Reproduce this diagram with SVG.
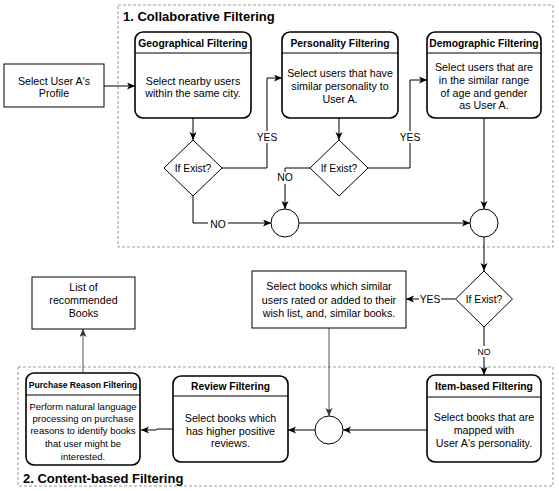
<svg xmlns="http://www.w3.org/2000/svg" width="559" height="491" viewBox="0 0 559 491">
<defs>
<marker id="arr" markerUnits="userSpaceOnUse" markerWidth="10" markerHeight="8" refX="8" refY="3.5" orient="auto">
<path d="M0,0 L8,3.5 L0,7 L2,3.5 z" fill="#000"/>
</marker>
<marker id="arrg" markerUnits="userSpaceOnUse" markerWidth="10" markerHeight="8" refX="8" refY="3.5" orient="auto">
<path d="M0,0 L8,3.5 L0,7 L2,3.5 z" fill="#333"/>
</marker>
</defs>
<style>
text{font-family:"Liberation Sans",Arial,sans-serif;fill:#000}
.b{font-size:10.7px;text-anchor:middle}
.h{font-size:10.3px;font-weight:bold;text-anchor:middle}
.t{font-size:13px;font-weight:bold}
.lbl{font-size:10.3px;text-anchor:middle}
.grp{fill:none;stroke:#999;stroke-width:1;stroke-dasharray:3 2}
.box{fill:#fff;stroke:#000;stroke-width:1}
.lane{fill:#fff;stroke:#000;stroke-width:1.6}
.c{fill:none;stroke:#000;stroke-width:1;marker-end:url(#arr)}
.cg{fill:none;stroke:#555;stroke-width:1;marker-end:url(#arrg)}
.lb{fill:#fff}
</style>
<rect width="559" height="491" fill="#fff"/>
<g id="collab-group">
<rect class="grp" x="118" y="5" width="435" height="242"/>
<text class="t" x="123" y="21">1. Collaborative Filtering</text>
</g>
<g id="content-group">
<rect class="grp" x="18" y="367" width="535" height="119"/>
<text class="t" x="23" y="483">2. Content-based Filtering</text>
</g>
<g id="connectors">
<path class="c" d="M104,86 L135,86"/>
<path class="c" d="M193,118 L193,140"/>
<path class="c" d="M222,168 L267,168 L267,78 L282,78"/>
<path class="c" d="M193,196 L193,223 L271,223"/>
<path class="c" d="M339,118 L339,140"/>
<path class="c" d="M310,168 L285,168 L285,209"/>
<path class="c" d="M368,168 L410,168 L410,80 L427,80"/>
<path class="c" d="M299,223 L470,223"/>
<path class="c" d="M484,118 L484,209"/>
<path class="c" d="M484,237 L484,271"/>
<path class="c" d="M455.5,299 L406,299"/>
<path class="c" d="M484,327 L484,375"/>
<path class="cg" d="M329,328 L329,416"/>
<path class="c" d="M427,430 L343,430"/>
<path class="c" d="M315,430 L288,430"/>
<path class="c" d="M173,429 L157,429 L156,430 L141,430"/>
<path class="cg" d="M83,373 L83,329"/>
<rect class="lb" x="256" y="131" width="22" height="12"/>
<text class="lbl" x="267" y="141">YES</text>
<rect class="lb" x="208" y="218" width="20" height="12"/>
<text class="lbl" x="218" y="228">NO</text>
<rect class="lb" x="276" y="172" width="18" height="12"/>
<text class="lbl" x="285" y="181">NO</text>
<rect class="lb" x="399" y="131" width="22" height="12"/>
<text class="lbl" x="410" y="141">YES</text>
<rect class="lb" x="419" y="293" width="22" height="12"/>
<text class="lbl" x="430" y="303">YES</text>
<rect class="lb" x="476" y="346" width="16" height="11"/>
<text class="lbl" x="484" y="355" style="font-size:8.7px">NO</text>
</g>
<g id="profile">
<rect class="box" x="4" y="64" width="100" height="43"/>
<text class="b" x="54" y="85">Select User A's</text>
<text class="b" x="54" y="97">Profile</text>
</g>
<g id="geo">
<rect class="lane" x="135" y="32" width="116" height="86" rx="8"/>
<line x1="135" y1="53" x2="251" y2="53" stroke="#000" stroke-width="1"/>
<text class="h" x="193" y="46.5">Geographical Filtering</text>
<text class="b" x="193" y="85">Select nearby users</text>
<text class="b" x="193" y="97">within the same city.</text>
</g>
<g id="personality">
<rect class="lane" x="282" y="32" width="116" height="86" rx="8"/>
<line x1="282" y1="53" x2="398" y2="53" stroke="#000" stroke-width="1"/>
<text class="h" x="340" y="46.5">Personality Filtering</text>
<text class="b" x="340" y="76.5">Select users that have</text>
<text class="b" x="340" y="90">similar personality to</text>
<text class="b" x="340" y="103">User A.</text>
</g>
<g id="demographic">
<rect class="lane" x="427" y="32" width="114" height="86" rx="8"/>
<line x1="427" y1="53" x2="541" y2="53" stroke="#000" stroke-width="1"/>
<text class="h" x="484" y="46.5">Demographic Filtering</text>
<text class="b" x="484" y="71">Select users that are</text>
<text class="b" x="484" y="84">in the similar range</text>
<text class="b" x="484" y="96.5">of age and gender</text>
<text class="b" x="484" y="109">as User A.</text>
</g>
<g id="exist1">
<polygon class="box" points="193,140 222,168 193,196 164,168"/>
<text class="lbl" x="193" y="172">If Exist?</text>
</g>
<g id="exist2">
<polygon class="box" points="339,140 368,168 339,196 310,168"/>
<text class="lbl" x="339" y="172">If Exist?</text>
</g>
<g id="join1"><circle class="box" cx="285" cy="223" r="14"/></g>
<g id="join2"><circle class="box" cx="484" cy="223" r="14"/></g>
<g id="exist3">
<polygon class="box" points="484,271 512.5,299 484,327 455.5,299"/>
<text class="lbl" x="484" y="303">If Exist?</text>
</g>
<g id="selectbooks">
<rect class="box" x="252" y="271" width="154" height="57"/>
<text class="b" x="329" y="290">Select books which similar</text>
<text class="b" x="329" y="303.5">users rated or added to their</text>
<text class="b" x="329" y="317">wish list, and, similar books.</text>
</g>
<g id="itembased">
<rect class="lane" x="427" y="375" width="114" height="87" rx="8"/>
<line x1="427" y1="397" x2="541" y2="397" stroke="#000" stroke-width="1"/>
<text class="h" x="484" y="389.5">Item-based Filtering</text>
<text class="b" x="484" y="421">Select books that are</text>
<text class="b" x="484" y="434">mapped with</text>
<text class="b" x="484" y="447">User A's personality.</text>
</g>
<g id="join3"><circle class="box" cx="329" cy="430" r="14"/></g>
<g id="review">
<rect class="lane" x="173" y="376" width="115" height="86" rx="8"/>
<line x1="173" y1="396" x2="288" y2="396" stroke="#000" stroke-width="1"/>
<text class="h" x="230.5" y="389.5">Review Filtering</text>
<text class="b" x="230.5" y="422">Select books which</text>
<text class="b" x="230.5" y="435">has higher positive</text>
<text class="b" x="230.5" y="447">reviews.</text>
</g>
<g id="purchase">
<rect class="lane" x="26" y="373" width="114" height="92" rx="8"/>
<line x1="26" y1="395" x2="140" y2="395" stroke="#000" stroke-width="1"/>
<text class="h" x="83" y="388" style="font-size:8.6px">Purchase Reason Filtering</text>
<text class="b" x="83" y="409.5" style="font-size:9.5px">Perform natural language</text>
<text class="b" x="83" y="421.5" style="font-size:9.5px">processing on purchase</text>
<text class="b" x="83" y="434" style="font-size:9.5px">reasons to identify books</text>
<text class="b" x="83" y="446.5" style="font-size:9.5px">that user might be</text>
<text class="b" x="83" y="459.5" style="font-size:9.5px">interested.</text>
</g>
<g id="list">
<rect class="box" x="32" y="277" width="103" height="52"/>
<text class="b" x="83.5" y="291">List of</text>
<text class="b" x="83.5" y="304">recommended</text>
<text class="b" x="83.5" y="317">Books</text>
</g>
</svg>
